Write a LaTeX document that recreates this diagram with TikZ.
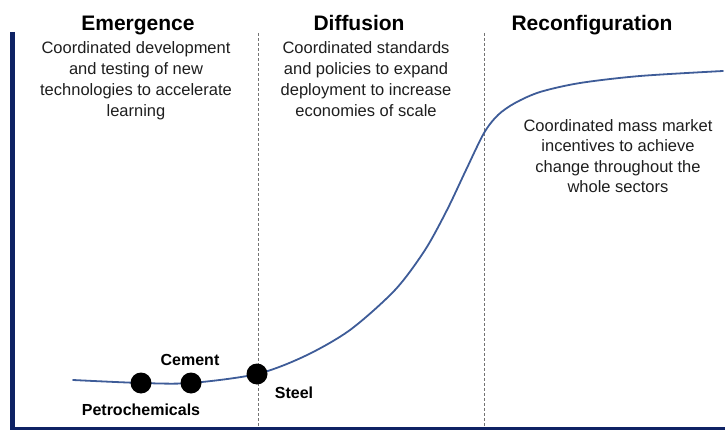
\documentclass[tikz,border=0pt]{standalone}
\usepackage{fontspec}
\setmainfont{Liberation Sans}
\definecolor{axisnavy}{RGB}{14,34,100}
\definecolor{curveblue}{RGB}{62,92,152}
\definecolor{bodygray}{RGB}{30,30,30}
\begin{document}
\begin{tikzpicture}[x=1pt,y=-1pt,
  phasetitle/.style={anchor=base,inner sep=0pt,font=\bfseries\fontsize{21}{25}\selectfont,text=black},
  phasebody/.style={anchor=north,inner sep=0pt,align=center,text=bodygray},
  sectorlabel/.style={anchor=base,inner sep=0pt,font=\bfseries\fontsize{16}{19}\selectfont,text=black},
  sectordot/.style={circle,fill=black,inner sep=0pt,minimum size=21pt},
  divider/.style={draw=black!55,line width=0.9pt,dash pattern=on 3pt off 2pt},
  axisline/.style={draw=axisnavy}]
\useasboundingbox (0,0) rectangle (725,430);
% axes
\coordinate (axtop) at (12.5,32);
\coordinate (axorigin) at (12.5,428.5);
\coordinate (axright) at (725,428.5);
\draw[axisline,line width=5pt] (axtop) -- (axorigin);
\draw[axisline,line width=3pt] ([xshift=-2.5pt]axorigin) -- (axright);
% dividers
\coordinate (d1t) at (258,33);
\coordinate (d1b) at (258,427);
\coordinate (d2t) at (484,33);
\coordinate (d2b) at (484,427);
\draw[divider] (d1t) -- (d1b);
\draw[divider] (d2t) -- (d2b);
% titles
\node[phasetitle] (t1) at (138,31) {Emergence};
\node[phasetitle] (t2) at (359,30.5) {Diffusion};
\node[phasetitle] (t3) at (592,30.5) {Reconfiguration};
% bodies
\node[phasebody,font=\fontsize{16.5}{21}\selectfont] (b1) at (136,41) {Coordinated development\\and testing of new\\technologies to accelerate\\learning};
\node[phasebody,font=\fontsize{16.5}{21}\selectfont] (b2) at (366,41) {Coordinated standards\\and policies to expand\\deployment to increase\\economies of scale};
\node[phasebody,font=\fontsize{16.5}{20.5}\selectfont] (b3) at (618,119) {Coordinated mass market\\incentives to achieve\\change throughout the\\whole sectors};
% curve
\draw[curveblue,line width=1.8pt,line cap=round] plot[smooth,tension=0.5] coordinates {
 (73,380) (141,383) (191,383) (257,374) (305,356) (350,330) (395,290) (425,250)
 (447,210) (466,170) (484,133) (498,115) (515,103) (540,92) (580,83) (640,76) (723,71)};
% dots
\node[sectordot] (petro) at (141,383) {};
\node[sectordot] (cement) at (191,383) {};
\node[sectordot] (steel) at (257,374) {};
% labels
\node[sectorlabel] (lcement) at (190,365) {Cement};
\node[sectorlabel] (lpetro) at (141,415) {Petrochemicals};
\node[sectorlabel] (lsteel) at (294,398) {Steel};
\end{tikzpicture}
\end{document}
